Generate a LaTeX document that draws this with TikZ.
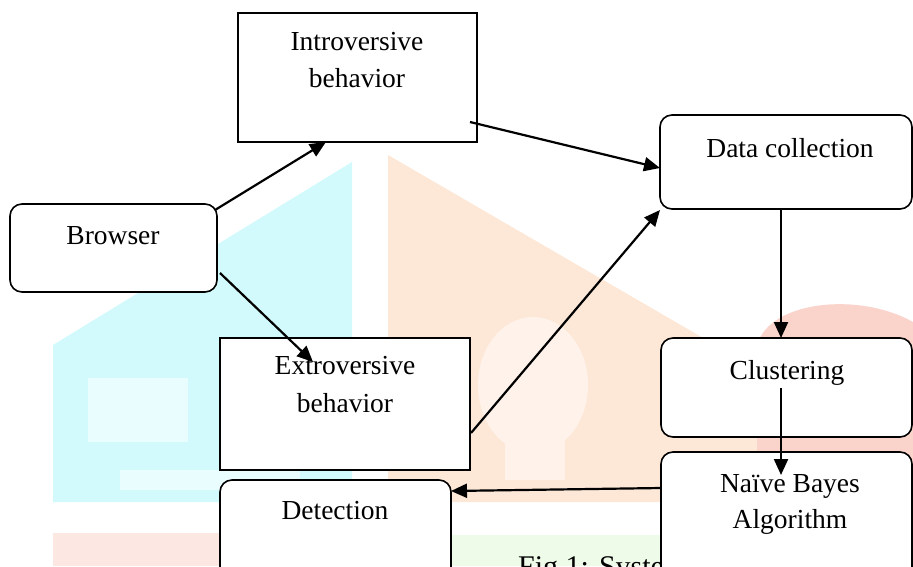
\documentclass[tikz,border=0pt]{standalone}
\usepackage{fontspec}
\setmainfont{Liberation Serif}
\usetikzlibrary{arrows.meta,calc}
\definecolor{wmcyan}{HTML}{D2FAFC}
\definecolor{wmcyanlight}{HTML}{EAFDFE}
\definecolor{wmorange}{HTML}{FDE8D7}
\definecolor{wmorangelight}{HTML}{FEF2EA}
\definecolor{wmred}{HTML}{FAD3CB}
\definecolor{wmpink}{HTML}{FDE7E3}
\definecolor{wmgreen}{HTML}{EFFBE9}
\begin{document}
\begin{tikzpicture}[x=1pt,y=-1pt,
  box/.style={draw=black, line width=1.6pt, fill=white, inner sep=0pt, outer sep=0pt},
  sqbox/.style={box},
  rbox/.style={box, rounded corners=12pt},
  lbl/.style={font=\fontsize{27.5}{33}\selectfont, anchor=base, inner sep=0pt},
  captxt/.style={font=\fontsize{30}{36}\selectfont, anchor=base west, inner sep=0pt},
  arr/.style={line width=2.2pt, -{Triangle[length=16pt,width=14pt]}}]
\useasboundingbox (0,0) rectangle (913,566);
\clip (0,0) rectangle (913,566);
% faint watermark in the background
\fill[wmcyan] (53,345) -- (352,162) -- (352,502) -- (53,502) -- cycle;
\fill[wmcyanlight] (88,378) rectangle (188,442);
\fill[wmcyanlight] (120,470) rectangle (300,490);
\fill[wmorange] (388,155) -- (760,371) -- (760,502) -- (388,502) -- cycle;
\fill[wmorangelight] (533,385) ellipse [x radius=55, y radius=68];
\fill[wmorangelight] (505,440) rectangle (565,480);
\fill[wmred] (757,502) -- (757,345) .. controls (770,300) and (860,292) .. (913,322) -- (913,502) -- cycle;
\fill[wmpink] (53,533) rectangle (420,566);
\fill[wmgreen] (420,535) rectangle (913,566);
% caption (partly hidden)
\node[captxt] (caption) at (518,576) {Fig 1: Syste};
% boxes
\node[sqbox, minimum width=239pt, minimum height=129pt] (intro) at (357.5,77.5) {};
\node[rbox, minimum width=252pt, minimum height=94pt] (data) at (786,162) {};
\node[rbox, minimum width=207pt, minimum height=88pt] (browser) at (113.5,248) {};
\node[sqbox, minimum width=250pt, minimum height=132pt] (extro) at (345,404) {};
\node[rbox, minimum width=251pt, minimum height=99pt] (clus) at (786.5,387.5) {};
\node[rbox, minimum width=251pt, minimum height=133pt] (naive) at (786.5,518.5) {};
\node[rbox, minimum width=231pt, minimum height=110pt] (detect) at (335.5,535) {};
% texts
\node[lbl] (introT1) at (357,50) {Introversive};
\node[lbl] (introT2) at (357,87) {behavior};
\node[lbl] (dataT) at (790,157) {Data collection};
\node[lbl] (browserT) at (113,244) {Browser};
\node[lbl] (extroT1) at (345,374) {Extroversive};
\node[lbl] (extroT2) at (345,412) {behavior};
\node[lbl] (clusT) at (787,379) {Clustering};
\node[lbl] (naiveT1) at (790,492) {Naïve Bayes};
\node[lbl] (naiveT2) at (790,528) {Algorithm};
\node[lbl] (detectT) at (335,519) {Detection};
% connectors
\draw[arr] ($(browser.north east)+(-2,6)$) -- ($(intro.south west)!0.368!(intro.south east)$);
\draw[arr] ($(browser.east)+(3,25)$) -- ($(extro.north west)+(93,24)$);
\draw[arr] ($(intro.east)+(-7,44.5)$) -- ($(data.west)+(0,6)$);
\draw[arr] ($(extro.east)+(1,29)$) -- ($(data.south west)+(0,1)$);
\draw[arr] ($(data.south)+(-5,0)$) -- ($(clus.north)+(-5.5,0)$);
\draw[arr] ($(clus.center)+(-5.5,0.5)$) -- ($(naive.north)+(-5.5,23)$);
\draw[arr] ($(naive.west)+(0,-30.5)$) -- ($(detect.east)+(0,-44)$);
\end{tikzpicture}
\end{document}
